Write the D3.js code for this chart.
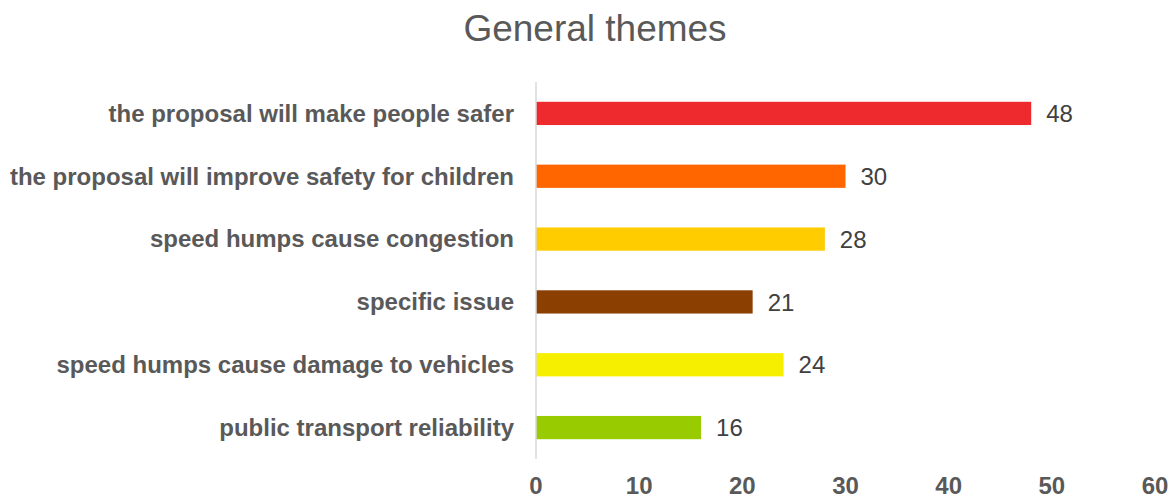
<!DOCTYPE html>
<html>
<head>
<meta charset="utf-8">
<title>General themes</title>
<style>
  body { margin: 0; background: #fff; }
  text { font-family: "Liberation Sans", Arial, sans-serif; }
</style>
</head>
<body>
<svg id="chart" width="1175" height="497"></svg>
<script src="https://cdnjs.cloudflare.com/ajax/libs/d3/7.8.5/d3.min.js"></script>
<script>
const categories = [
  'the proposal will make people safer',
  'the proposal will improve safety for children',
  'speed humps cause congestion',
  'specific issue',
  'speed humps cause damage to vehicles',
  'public transport reliability'
];
const values = [48, 30, 28, 21, 24, 16];
const colors = ['#EE2A2F', '#FF6600', '#FFCC00', '#8B3F00', '#F7EF00', '#99CC00'];
const ticks = [0, 10, 20, 30, 40, 50, 60];

const svg = d3.select('#chart');
const plotLeft = 536, plotRight = 1155, plotTop = 82, plotBottom = 459;

const x = d3.scaleLinear().domain([0, 60]).range([plotLeft, plotRight]);
const y = d3.scaleBand().domain(categories).range([plotTop, plotBottom]).paddingInner(0.63).paddingOuter(0.315);

svg.append('text')
  .attr('x', 595).attr('y', 41)
  .attr('text-anchor', 'middle')
  .attr('fill', '#595959')
  .style('font-size', '37px')
  .text('General themes');

svg.selectAll('rect.bar')
  .data(categories)
  .enter().append('rect')
  .attr('class', 'bar')
  .attr('x', x(0))
  .attr('y', d => y(d))
  .attr('width', (d, i) => x(values[i]) - x(0))
  .attr('height', y.bandwidth())
  .attr('fill', (d, i) => colors[i]);

// vertical axis line
svg.append('line')
  .attr('x1', x(0)).attr('x2', x(0))
  .attr('y1', plotTop).attr('y2', plotBottom)
  .attr('stroke', '#d9d9d9').attr('stroke-width', 1.5);

svg.selectAll('text.cat')
  .data(categories)
  .enter().append('text')
  .attr('class', 'cat')
  .attr('x', 514)
  .attr('y', d => y(d) + y.bandwidth() / 2)
  .attr('dy', '0.35em')
  .attr('text-anchor', 'end')
  .attr('fill', '#595959')
  .style('font-size', '24px')
  .style('font-weight', 'bold')
  .text(d => d);

svg.selectAll('text.val')
  .data(categories)
  .enter().append('text')
  .attr('class', 'val')
  .attr('x', (d, i) => x(values[i]) + 15)
  .attr('y', d => y(d) + y.bandwidth() / 2)
  .attr('dy', '0.36em')
  .attr('fill', '#404040')
  .style('font-size', '24px')
  .text((d, i) => values[i]);

svg.selectAll('text.tick')
  .data(ticks)
  .enter().append('text')
  .attr('class', 'tick')
  .attr('x', d => x(d))
  .attr('y', 494)
  .attr('text-anchor', 'middle')
  .attr('fill', '#595959')
  .style('font-size', '24px')
  .style('font-weight', 'bold')
  .text(d => d);
</script>
</body>
</html>
